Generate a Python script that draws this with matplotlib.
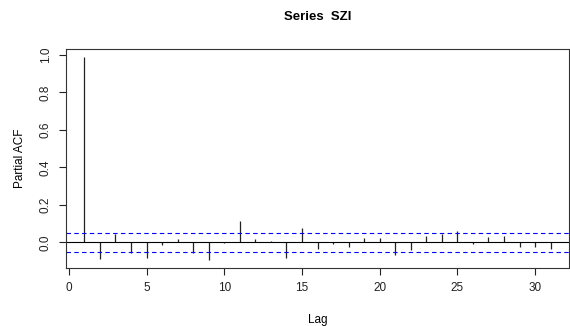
import numpy as np
import matplotlib
matplotlib.use("Agg")
import matplotlib.pyplot as plt

plt.rcParams["font.family"] = ["Liberation Sans", "DejaVu Sans"]

# partial autocorrelations, lags 1..31
lags = list(range(1, 32))
pacf_vals = [0.989, -0.086, 0.045, -0.056, -0.081, -0.014, 0.018, -0.059,
             -0.095, -0.002, 0.115, 0.018, 0.005, -0.081, 0.077, -0.036,
             -0.007, -0.023, 0.023, 0.023, -0.065, -0.039, 0.034, 0.045,
             0.061, -0.011, 0.029, 0.032, -0.027, -0.027, -0.034]
conf_limit = 0.05
x_ticks = [0, 5, 10, 15, 20, 25, 30]
y_ticks = [0.0, 0.2, 0.4, 0.6, 0.8, 1.0]

fig = plt.figure(figsize=(5.7, 3.26), dpi=100)
ax = fig.add_axes([0.1153, 0.177, 0.8835, 0.6727])

ax.vlines(lags, 0, pacf_vals, color="#222222", lw=0.9)
ax.axhline(0, color="black", lw=0.8)
for c in (conf_limit, -conf_limit):
    ax.axhline(c, color="#0000FF", lw=0.8, linestyle=(0, (4, 3)))

ax.set_xlim(-0.2, 32.2)
ax.set_ylim(-0.138, 1.032)
ax.set_xticks(x_ticks)
ax.set_yticks(y_ticks)
ax.set_yticklabels([f"{v:.1f}" for v in y_ticks], rotation=90, va="center")
ax.tick_params(length=5, width=0.8, labelsize=8.5, colors="#222222", pad=5)

for s in ax.spines.values():
    s.set_linewidth(0.8)
    s.set_color("#333333")

ax.set_xlabel("Lag", fontsize=8.5, labelpad=14)
ax.set_ylabel("Partial ACF", fontsize=8.5, labelpad=10)
ax.set_title("Series  SZI", fontsize=9.5, fontweight="bold", pad=21)

fig.savefig("out.png", dpi=100)
